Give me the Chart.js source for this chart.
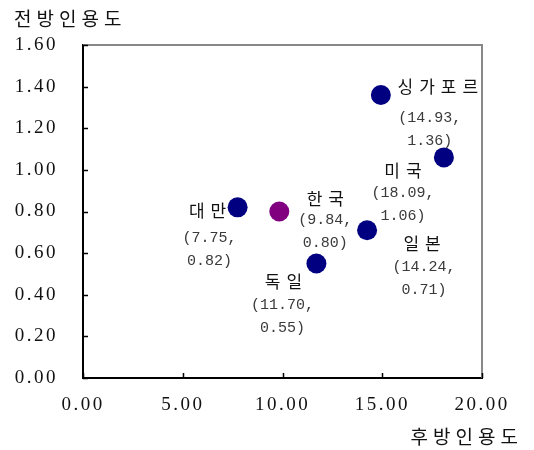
<!DOCTYPE html>
<html>
<head>
<meta charset="utf-8">
<script src="https://cdn.jsdelivr.net/npm/chart.js@4"></script>
<style>
  html, body { margin: 0; padding: 0; background: #fff; }
  #wrap { width: 534px; height: 450px; }
</style>
</head>
<body>
<div id="wrap"><canvas id="chart" width="534" height="450"></canvas></div>
<script>
// 데이터
const countries = ['대만', '한국', '독일', '일본', '싱가포르', '미국'];
const backwardCite = [7.75, 9.84, 11.70, 14.24, 14.93, 18.09];   // 후방인용도
const forwardCite = [0.82, 0.80, 0.55, 0.71, 1.36, 1.06];        // 전방인용도
const xTickValues = [0, 5, 10, 15, 20];
const yTickValues = [0, 0.2, 0.4, 0.6, 0.8, 1.0, 1.2, 1.4, 1.6];
const xTitle = '후방인용도';
const yTitle = '전방인용도';
const highlight = '한국';

// 라벨 위치 (점 기준 오프셋): [이름 dx, 이름 dy, 좌표 dx, 좌표 첫줄 dy]
const labelOffsets = {
  '대만': [-30, 3, -28, 31],
  '한국': [46, -13, 46, 9],
  '독일': [-33, 18, -34, 41],
  '일본': [55, 13, 57, 37],
  '싱가포르': [57, -8, 49, 23],
  '미국': [-41, 13, -41, 36]
};

const monoFont = '"Liberation Mono", "DejaVu Sans Mono", monospace';
const serifFont = '"Liberation Serif", "DejaVu Serif", serif';
const krFont = '"Noto Sans CJK KR", "Noto Sans", sans-serif';

// 점 옆의 국가명과 좌표
const pointLabels = {
  id: 'pointLabels',
  afterDatasetsDraw(chart) {
    const ctx = chart.ctx;
    const meta = chart.getDatasetMeta(0);
    ctx.save();
    ctx.textAlign = 'center';
    ctx.textBaseline = 'middle';
    meta.data.forEach(function(pt, i) {
      const off = labelOffsets[countries[i]];
      ctx.fillStyle = '#111';
      ctx.font = '17px ' + krFont;
      ctx.letterSpacing = '6px';
      ctx.fillText(countries[i], pt.x + off[0] + 3, pt.y + off[1]);
      ctx.letterSpacing = '0px';
      ctx.fillStyle = '#3a3a3a';
      ctx.font = '15px ' + monoFont;
      ctx.fillText('(' + backwardCite[i].toFixed(2) + ',', pt.x + off[2], pt.y + off[3]);
      ctx.fillText(forwardCite[i].toFixed(2) + ')', pt.x + off[2], pt.y + off[3] + 23);
    });
    ctx.restore();
  }
};

// 테두리, 안쪽 눈금, 축 제목
const frame = {
  id: 'frame',
  beforeDraw(chart) {
    chart.ctx.letterSpacing = '2.5px';
  },
  beforeDatasetsDraw(chart) {
    const ctx = chart.ctx;
    const a = chart.chartArea;
    const xs = chart.scales.x, ys = chart.scales.y;
    ctx.save();
    ctx.strokeStyle = '#888';
    ctx.lineWidth = 2;
    ctx.beginPath();
    ctx.moveTo(a.left, a.top);
    ctx.lineTo(a.right, a.top);
    ctx.lineTo(a.right, a.bottom);
    ctx.stroke();
    ctx.strokeStyle = '#000';
    ctx.lineWidth = 1.5;
    ctx.beginPath();
    xTickValues.forEach(function(v) {
      const x = Math.round(xs.getPixelForValue(v)) + 0.5;
      ctx.moveTo(x, a.bottom);
      ctx.lineTo(x, a.bottom - 5);
    });
    yTickValues.forEach(function(v) {
      const y = Math.round(ys.getPixelForValue(v)) + 0.5;
      ctx.moveTo(a.left, y);
      ctx.lineTo(a.left + 5, y);
    });
    ctx.stroke();
    ctx.restore();
  },
  afterDraw(chart) {
    const ctx = chart.ctx;
    ctx.save();
    ctx.fillStyle = '#111';
    ctx.font = '19px ' + krFont;
    ctx.letterSpacing = '5px';
    ctx.textBaseline = 'middle';
    ctx.textAlign = 'left';
    ctx.fillText(yTitle, 14, 19);
    ctx.textAlign = 'right';
    ctx.fillText(xTitle, 523, 437);
    ctx.restore();
    ctx.letterSpacing = '0px';
  }
};

new Chart(document.getElementById('chart'), {
  type: 'scatter',
  data: {
    datasets: [{
      data: countries.map(function(c, i) { return { x: backwardCite[i], y: forwardCite[i] }; }),
      backgroundColor: function(ctx) { return countries[ctx.dataIndex] === highlight ? '#800080' : '#000080'; },
      borderWidth: 0,
      pointRadius: 10,
      pointHoverRadius: 10
    }]
  },
  options: {
    responsive: false,
    animation: false,
    events: [],
    layout: { padding: { left: 0, right: 52, top: 45, bottom: 0 } },
    plugins: { legend: { display: false }, tooltip: { enabled: false } },
    scales: {
      x: {
        type: 'linear',
        min: 0, max: 20,
        afterBuildTicks: function(s) { s.ticks = xTickValues.map(function(v) { return { value: v }; }); },
        afterFit: function(s) { s.height = 72; },
        grid: { display: false, drawTicks: false },
        border: { display: true, color: '#000', width: 2 },
        ticks: {
          padding: 16,
          color: '#111',
          font: { family: serifFont, size: 19 },
          maxRotation: 0,
          callback: function(v) { return Number(v).toFixed(2); }
        }
      },
      y: {
        type: 'linear',
        min: 0, max: 1.6,
        afterBuildTicks: function(s) { s.ticks = yTickValues.map(function(v) { return { value: v }; }); },
        afterFit: function(s) { s.width = 83; },
        grid: { display: false, drawTicks: false },
        border: { display: true, color: '#000', width: 2 },
        ticks: {
          padding: 25,
          color: '#111',
          font: { family: serifFont, size: 19 },
          callback: function(v) { return Number(v).toFixed(2); }
        }
      }
    }
  },
  plugins: [frame, pointLabels]
});
</script>
</body>
</html>
